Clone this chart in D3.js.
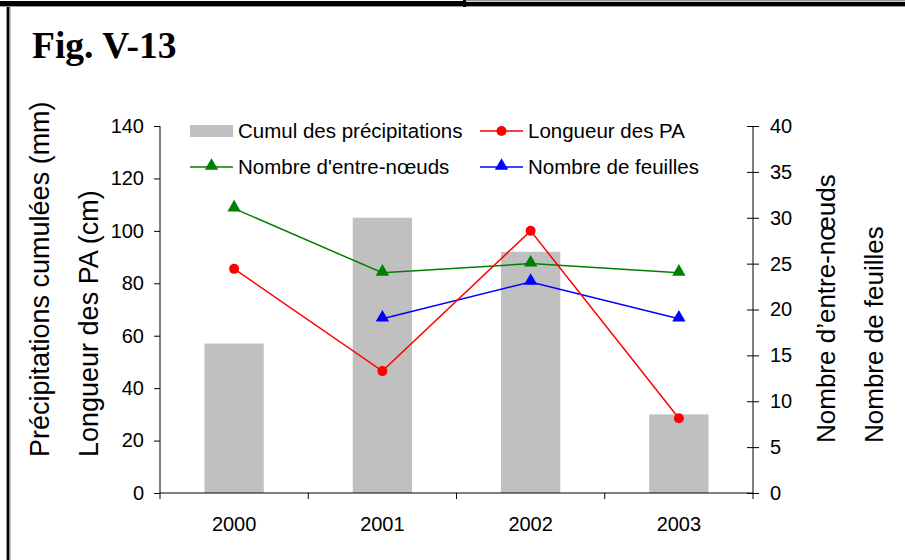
<!DOCTYPE html>
<html>
<head>
<meta charset="utf-8">
<script src="https://cdn.jsdelivr.net/npm/d3@7"></script>
<style>
  html, body { margin: 0; padding: 0; background: #fff; }
  svg { display: block; }
</style>
</head>
<body>
<svg id="chart" width="905" height="560"></svg>
<script>
// Years on the x axis
const years = ["2000", "2001", "2002", "2003"];
// Cumulated rainfall (mm), left axis, bars
const rainfall = [57, 105, 92, 30];
// Length of the PA shoots (cm), left axis
const paLength = [85.5, 46.5, 100, 28.5];
// Number of internodes, right axis
const internodes = [31, 24, 25, 24];
// Number of leaves, right axis (no value for 2000)
const leaves = [null, 19, 23, 19];
// Tick values
const leftTicks = [0, 20, 40, 60, 80, 100, 120, 140];
const rightTicks = [0, 5, 10, 15, 20, 25, 30, 35, 40];

(function () {
const svg = d3.select("#chart");
const sans = "'Liberation Sans', Arial, sans-serif";

// Page frame
svg.append("rect").attr("x", 0).attr("y", 1).attr("width", 465).attr("height", 5).attr("fill", "#000");
svg.append("rect").attr("x", 0).attr("y", 6).attr("width", 465).attr("height", 1).attr("fill", "#999");
svg.append("rect").attr("x", 463).attr("y", 0).attr("width", 3).attr("height", 7).attr("fill", "#000");
svg.append("rect").attr("x", 466).attr("y", 0).attr("width", 439).attr("height", 1.5).attr("fill", "#999");
svg.append("rect").attr("x", 466).attr("y", 2).attr("width", 439).attr("height", 4).attr("fill", "#000");
svg.append("rect").attr("x", 466).attr("y", 6).attr("width", 439).attr("height", 1).attr("fill", "#999");
svg.append("rect").attr("x", 6).attr("y", 7).attr("width", 1).attr("height", 553).attr("fill", "#999");
svg.append("rect").attr("x", 7).attr("y", 7).attr("width", 2.5).attr("height", 553).attr("fill", "#000");
svg.append("rect").attr("x", 9.5).attr("y", 7).attr("width", 1).attr("height", 553).attr("fill", "#999");

// Figure number
svg.append("text")
  .attr("x", 32).attr("y", 58)
  .attr("font-family", "'Liberation Serif', 'Times New Roman', serif")
  .attr("font-weight", "bold")
  .attr("font-size", 37.5)
  .text("Fig. V-13");

// Plot area
const plotLeft = 160, plotRight = 753, plotTop = 126, plotBottom = 493;

const xBand = d3.scaleBand().domain(years).range([plotLeft, plotRight]);
const yL = d3.scaleLinear().domain([0, 140]).range([plotBottom, plotTop]);
const yR = d3.scaleLinear().domain([0, 40]).range([plotBottom, plotTop]);
const cx = d => xBand(d) + xBand.bandwidth() / 2;

// Bars: cumulated rainfall
svg.append("g").selectAll("rect")
  .data(years)
  .join("rect")
  .attr("x", d => cx(d) - xBand.bandwidth() * 0.2)
  .attr("width", xBand.bandwidth() * 0.4)
  .attr("y", (d, i) => yL(rainfall[i]))
  .attr("height", (d, i) => plotBottom - yL(rainfall[i]))
  .attr("fill", "#C0C0C0");

// Axes
const axisStyle = g => {
  g.selectAll("path, line").attr("stroke", "#000").attr("stroke-width", 1);
  g.selectAll("text").attr("font-family", sans).attr("font-size", 20).attr("fill", "#000");
};

const gL = svg.append("g").attr("transform", `translate(${plotLeft},0)`)
  .call(d3.axisLeft(yL).tickValues(leftTicks).tickSize(6).tickSizeOuter(0).tickPadding(10))
  .call(axisStyle);
gL.select(".domain").remove();
gL.append("line").attr("x1", 0).attr("x2", 0).attr("y1", plotTop).attr("y2", plotBottom + 6).attr("stroke", "#000");

const gR = svg.append("g").attr("transform", `translate(${plotRight},0)`)
  .call(d3.axisRight(yR).tickValues(rightTicks).tickSize(6).tickSizeOuter(0).tickPadding(11))
  .call(axisStyle);
gR.selectAll(".tick line").attr("x1", -6).attr("x2", 6);
gR.select(".domain").remove();
gR.append("line").attr("x1", 0).attr("x2", 0).attr("y1", plotTop).attr("y2", plotBottom + 6).attr("stroke", "#000");

const gX = svg.append("g").attr("transform", `translate(0,${plotBottom})`)
  .call(d3.axisBottom(xBand).tickSize(0).tickPadding(24))
  .call(axisStyle);
gX.select(".domain").remove();
gX.append("line").attr("x1", plotLeft).attr("x2", plotRight).attr("y1", 0).attr("y2", 0).attr("stroke", "#000");
gX.selectAll(".sep")
  .data(years.slice(1))
  .join("line")
  .attr("class", "sep")
  .attr("x1", d => xBand(d)).attr("x2", d => xBand(d))
  .attr("y1", 0).attr("y2", 6)
  .attr("stroke", "#000");

// Axis titles
const title = (tx, ty, size, text) => svg.append("text")
  .attr("transform", `translate(${tx},${ty}) rotate(-90)`)
  .attr("font-family", sans).attr("font-size", size).attr("fill", "#000")
  .text(text);
title(49, 457, 27, "Précipitations cumulées (mm)");
title(98, 457, 27, "Longueur des PA (cm)");
title(835, 443, 26, "Nombre d’entre-nœuds");
title(883, 443, 26, "Nombre de feuilles");

// Lines
const triangle = d3.symbol().type(d3.symbolTriangle).size(78);

function drawSeries(values, yScale, color, marker) {
  const pts = years.map((d, i) => ({ year: d, v: values[i] })).filter(p => p.v !== null);
  const line = d3.line().x(p => cx(p.year)).y(p => yScale(p.v));
  svg.append("path").datum(pts).attr("d", line)
    .attr("fill", "none").attr("stroke", color).attr("stroke-width", 1.5);
  const g = svg.append("g");
  if (marker === "circle") {
    g.selectAll("circle").data(pts).join("circle")
      .attr("cx", p => cx(p.year)).attr("cy", p => yScale(p.v)).attr("r", 5)
      .attr("fill", color);
  } else {
    g.selectAll("path").data(pts).join("path")
      .attr("transform", p => `translate(${cx(p.year)},${yScale(p.v) - 1})`)
      .attr("d", triangle).attr("fill", color);
  }
}

drawSeries(internodes, yR, "#008000", "triangle");
drawSeries(leaves, yR, "#0000FF", "triangle");
drawSeries(paLength, yL, "#FF0000", "circle");

// Legend
const legend = svg.append("g").attr("font-family", sans).attr("font-size", 20.5).attr("fill", "#000");
const legendItems = [
  { label: "Cumul des précipitations", kind: "bar", color: "#C0C0C0", x: 190, y: 131 },
  { label: "Longueur des PA", kind: "circle", color: "#FF0000", x: 480, y: 131 },
  { label: "Nombre d'entre-nœuds", kind: "triangle", color: "#008000", x: 190, y: 167 },
  { label: "Nombre de feuilles", kind: "triangle", color: "#0000FF", x: 480, y: 167 }
];
legendItems.forEach(it => {
  const g = legend.append("g");
  if (it.kind === "bar") {
    g.append("rect").attr("x", it.x).attr("y", it.y - 6).attr("width", 43).attr("height", 12).attr("fill", it.color);
  } else {
    g.append("line").attr("x1", it.x).attr("x2", it.x + 43).attr("y1", it.y).attr("y2", it.y)
      .attr("stroke", it.color).attr("stroke-width", 1.5);
    if (it.kind === "circle") {
      g.append("circle").attr("cx", it.x + 21.5).attr("cy", it.y).attr("r", 5).attr("fill", it.color);
    } else {
      g.append("path").attr("transform", `translate(${it.x + 21.5},${it.y - 1})`).attr("d", triangle).attr("fill", it.color);
    }
  }
  g.append("text").attr("x", it.x + 48).attr("y", it.y).attr("dy", "0.35em").text(it.label);
});
})();
</script>
</body>
</html>
